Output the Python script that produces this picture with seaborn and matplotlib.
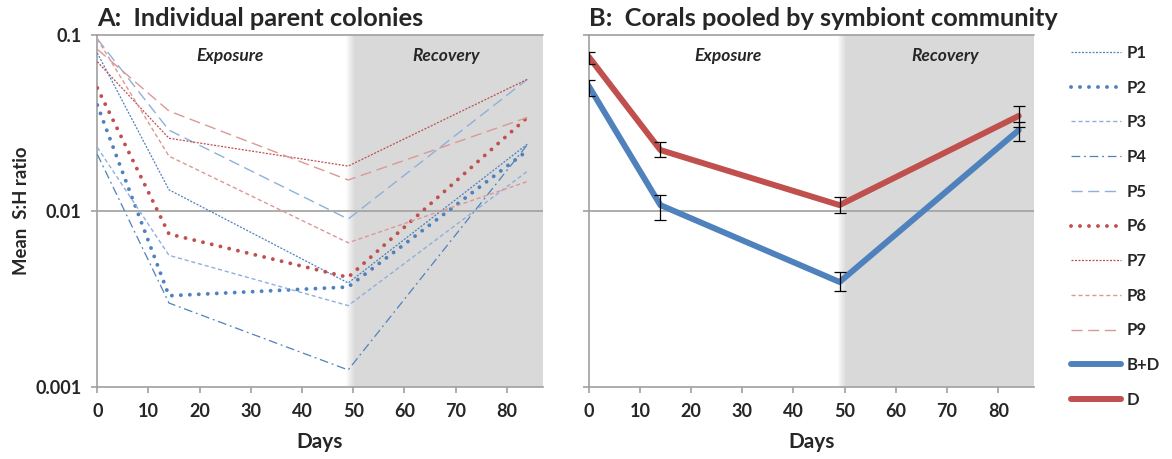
import numpy as np
import pandas as pd
import matplotlib
matplotlib.use("Agg")
import matplotlib.pyplot as plt
import seaborn as sns

# ---------------- data ----------------
days = [0, 14, 49, 84]
colonies = ["P1", "P2", "P3", "P4", "P5", "P6", "P7", "P8", "P9"]
P1 = [0.079, 0.0132, 0.0039, 0.024]
P2 = [0.040, 0.0033, 0.0037, 0.022]
P3 = [0.023, 0.0056, 0.0029, 0.0168]
P4 = [0.021, 0.0030, 0.00125, 0.0238]
P5 = [0.095, 0.0288, 0.0090, 0.056]
P6 = [0.050, 0.0074, 0.0042, 0.034]
P7 = [0.0705, 0.0259, 0.018, 0.056]
P8 = [0.095, 0.0205, 0.0066, 0.0147]
P9 = [0.083, 0.037, 0.015, 0.034]
colony_values = [P1, P2, P3, P4, P5, P6, P7, P8, P9]

groups = ["B+D", "D"]
BD_mean = [0.0513, 0.0108, 0.00395, 0.0288]
BD_low = [0.0452, 0.0089, 0.0035, 0.0250]
BD_high = [0.0555, 0.0123, 0.0045, 0.0322]
D_mean = [0.0753, 0.0222, 0.0108, 0.0347]
D_low = [0.0682, 0.0203, 0.0097, 0.0300]
D_high = [0.0804, 0.0248, 0.0120, 0.0396]

x_ticks = [0, 10, 20, 30, 40, 50, 60, 70, 80]
y_ticks = [0.001, 0.01, 0.1]
y_ticklabels = ["0.001", "0.01", "0.1"]

# ---------------- styles ----------------
BLUE = "#4f81bd"
RED = "#c0504d"
LBLUE = "#8eb0dc"
LRED = "#dc9896"
GRAY = "#d9d9d9"
AXC = "#a0a0a0"

dot_thick = (0, (0.01, 2.3))
styles = {
    "P1": dict(color=BLUE, lw=0.9, ls=(0, (1.6, 1.2)), cap="butt"),
    "P2": dict(color=BLUE, lw=2.8, ls=dot_thick, cap="round"),
    "P3": dict(color=LBLUE, lw=1.0, ls=(0, (3, 2)), cap="butt"),
    "P4": dict(color=BLUE, lw=0.9, ls=(0, (7, 3, 1.5, 3)), cap="butt"),
    "P5": dict(color=LBLUE, lw=1.0, ls=(0, (8, 4)), cap="butt"),
    "P6": dict(color=RED, lw=2.8, ls=dot_thick, cap="round"),
    "P7": dict(color=RED, lw=0.9, ls=(0, (1.6, 1.2)), cap="butt"),
    "P8": dict(color=LRED, lw=1.0, ls=(0, (3, 2)), cap="butt"),
    "P9": dict(color=LRED, lw=1.0, ls=(0, (8, 4)), cap="butt"),
}

sns.set_theme(style="white")
FONT = "Lato"
plt.rcParams["font.family"] = [FONT, "DejaVu Sans"]

fig = plt.figure(figsize=(11.72, 4.59), dpi=100)
axA = fig.add_axes([97.3 / 1172, 72 / 459, 445.4 / 1172, 352 / 459])
axB = fig.add_axes([588.7 / 1172, 72 / 459, 445.4 / 1172, 352 / 459])

XMAX = 87


def decorate(ax, show_ylabels, exp_x, rec_x):
    ax.set_yscale("log")
    ax.set_xlim(0, XMAX)
    ax.set_ylim(0.001, 0.1)
    # shading with soft left edge
    n = 14
    g0, g1 = 48.6, 50.4
    w = (g1 - g0) / n
    for i in range(n):
        ax.axvspan(g0 + i * w, g0 + (i + 1) * w, color=GRAY, alpha=(i + 1) / n,
                   lw=0, zorder=0)
    ax.axvspan(g1, XMAX, color=GRAY, lw=0, zorder=0)
    ax.axhline(0.01, color=AXC, lw=1.2, zorder=1)
    ax.axhline(0.1, color=AXC, lw=1.2, zorder=1, clip_on=False)
    for s in ["top", "right"]:
        ax.spines[s].set_visible(False)
    for s in ["left", "bottom"]:
        ax.spines[s].set_color(AXC)
        ax.spines[s].set_linewidth(1.2)
    ax.set_xticks(x_ticks)
    ax.set_xticklabels([str(t) for t in x_ticks], fontsize=13, fontweight="bold")
    ax.set_yticks(y_ticks)
    ax.minorticks_off()
    if show_ylabels:
        ax.set_yticklabels(y_ticklabels, fontsize=13, fontweight="bold")
    else:
        ax.set_yticklabels([])
    ax.tick_params(axis="both", which="major", direction="out", length=4.3,
                   width=1.2, color=AXC, pad=7, left=True, bottom=True)
    ax.tick_params(axis="x", pad=7.5)
    ax.set_xlabel("Days", fontsize=15, fontweight="bold", labelpad=8)
    ax.text(exp_x, 0.0755, "Exposure", ha="center", va="center", fontsize=12.5,
            fontweight="bold", style="italic")
    ax.text(rec_x, 0.0755, "Recovery", ha="center", va="center", fontsize=12.5,
            fontweight="bold", style="italic")
    ax.grid(False)


decorate(axA, True, 26.0, 68.2)
decorate(axB, False, 27.2, 69.6)

axA.set_ylabel("Mean  S:H ratio", fontsize=13.3, fontweight="bold", labelpad=4)
axA.set_title("A:  Individual parent colonies", loc="left", fontsize=18.3,
              fontweight="bold", pad=6.5)
axB.set_title("B:  Corals pooled by symbiont community", loc="left",
              fontsize=18.3, fontweight="bold", pad=6.5)

handles = []
for name, vals in zip(colonies, colony_values):
    st = styles[name]
    sns.lineplot(x=days, y=vals, ax=axA, color=st["color"], linewidth=st["lw"],
                 linestyle=st["ls"], dash_capstyle=st["cap"],
                 solid_capstyle="round", zorder=3, label=name, legend=False)
    handles.append(axA.get_lines()[-1])

for name, mean, low, high, col in [("B+D", BD_mean, BD_low, BD_high, BLUE),
                                   ("D", D_mean, D_low, D_high, RED)]:
    sns.lineplot(x=days, y=mean, ax=axB, color=col, linewidth=4.3,
                 solid_capstyle="round", solid_joinstyle="round", zorder=3,
                 label=name, legend=False)
    handles.append(axB.get_lines()[-1])
    m = np.array(mean)
    yerr = np.vstack([m - np.array(low), np.array(high) - m])
    axB.errorbar(days, mean, yerr=yerr, fmt="none", ecolor="black",
                 elinewidth=0.9, capsize=4, capthick=0.9, zorder=5)

leg = fig.legend(handles=handles, labels=colonies + groups,
                 loc="upper left", bbox_to_anchor=(1071 / 1172, 1 - 45 / 459),
                 frameon=False, fontsize=12, handlelength=3.0, handletextpad=0.35,
                 labelspacing=1.12, borderaxespad=0, borderpad=0)
for t in leg.get_texts():
    t.set_fontweight("bold")

fig.savefig("out.png", dpi=100)
